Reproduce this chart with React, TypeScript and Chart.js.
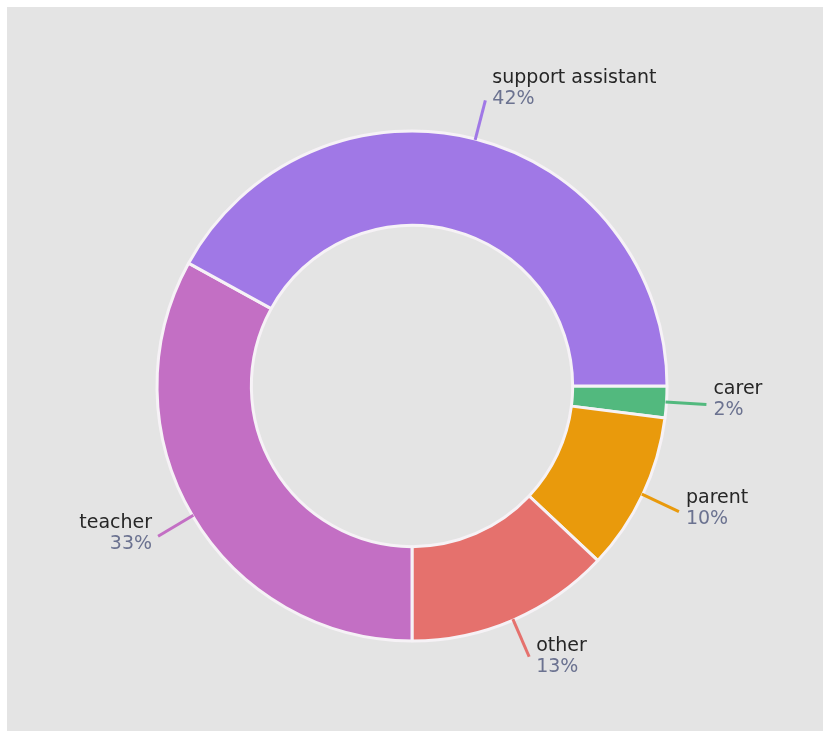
import React, { useEffect, useRef } from "react";
import { Chart, registerables } from "chart.js";

Chart.register(...registerables);

const categories = ["carer", "parent", "other", "teacher", "support assistant"];
const values = [2, 10, 13, 33, 42];
const percentLabels = ["2%", "10%", "13%", "33%", "42%"];
const colors = ["#52b97e", "#e99a0c", "#e5716d", "#c36fc4", "#a078e6"];

const FONT = '"DejaVu Sans", sans-serif';

const backgroundPlugin = {
  id: "bg",
  beforeDraw(chart: any) {
    const { ctx, width, height } = chart;
    ctx.save();
    ctx.fillStyle = "#ffffff";
    ctx.fillRect(0, 0, width, height);
    ctx.fillStyle = "#e4e4e4";
    ctx.fillRect(7, 7, width - 7, height - 7);
    ctx.restore();
  },
};

const labelPlugin = {
  id: "outLabels",
  afterDatasetsDraw(chart: any) {
    const { ctx } = chart;
    const meta = chart.getDatasetMeta(0);
    ctx.save();
    meta.data.forEach((arc: any, i: number) => {
      const p = arc.getProps(["x", "y", "startAngle", "endAngle", "outerRadius"], true);
      const mid = (p.startAngle + p.endAngle) / 2;
      const cos = Math.cos(mid);
      const sin = Math.sin(mid);
      const r0 = p.outerRadius - 1;
      const r1 = p.outerRadius + 40;
      const sx = p.x + cos * r0;
      const sy = p.y + sin * r0;
      const ex = p.x + cos * r1;
      const ey = p.y + sin * r1;
      ctx.strokeStyle = colors[i];
      ctx.lineWidth = 3;
      ctx.beginPath();
      ctx.moveTo(sx, sy);
      ctx.lineTo(ex, ey);
      ctx.stroke();

      const right = cos >= 0;
      const tx = right ? ex + 7 : ex - 6;
      const nameY = ey - 16 + 6 * sin;
      ctx.textAlign = right ? "left" : "right";
      ctx.textBaseline = "middle";
      ctx.font = "19px " + FONT;
      ctx.fillStyle = "#262626";
      ctx.fillText(categories[i], tx, nameY);
      ctx.fillStyle = "#6b7290";
      ctx.fillText(percentLabels[i], tx, nameY + 21);
    });
    ctx.restore();
  },
};

export default function App() {
  const ref = useRef<HTMLCanvasElement | null>(null);
  useEffect(() => {
    if (!ref.current) return;
    const chart = new Chart(ref.current, {
      type: "doughnut",
      data: {
        labels: categories,
        datasets: [
          {
            data: values,
            backgroundColor: colors,
            borderColor: "#f6f2f6",
            borderWidth: 3,
          },
        ],
      },
      options: {
        responsive: false,
        animation: false,
        rotation: 90,
        radius: 255,
        cutout: "63%",
        layout: { padding: { left: 100, right: 99, top: 100, bottom: 59 } },
        plugins: {
          legend: { display: false },
          tooltip: { enabled: false },
        },
      },
      plugins: [backgroundPlugin, labelPlugin],
    });
    return () => chart.destroy();
  }, []);
  return (
    <div style={{ position: "fixed", left: 0, top: 0, width: 823, height: 731 }}>
      <canvas ref={ref} width={823} height={731} style={{ display: "block" }} />
    </div>
  );
}
